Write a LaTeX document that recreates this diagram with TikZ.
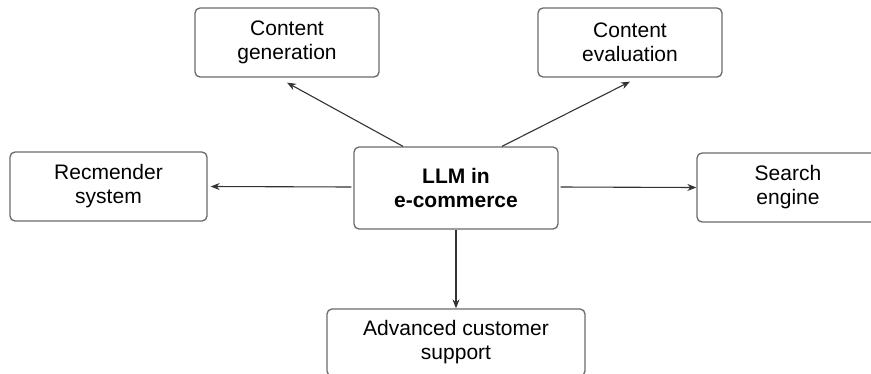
\documentclass[tikz,border=0pt]{standalone}
\usepackage{fontspec}
\setmainfont{Liberation Sans}
\usetikzlibrary{arrows.meta}
\definecolor{boxline}{HTML}{6A6A6A}
\definecolor{arrowline}{HTML}{333333}
\begin{document}
\begin{tikzpicture}[x=1pt,y=-1pt,
  topic/.style={draw=boxline, line width=1.3pt, rounded corners=5pt, fill=white,
    align=center, inner sep=0pt, font=\fontsize{21}{24}\selectfont},
  link/.style={draw=arrowline, line width=1.1pt, -{Stealth[length=9pt,width=7pt]}}]
  \useasboundingbox (0,0) rectangle (871,373);
  \fill[white] (0,0) rectangle (871,373);

  % boxes
  \node[topic, minimum width=184pt, minimum height=69pt] (gen) at (287,42.5) {Content\\generation};
  \node[topic, minimum width=184pt, minimum height=69pt] (eval) at (630,42.5) {Content\\evaluation};
  \node[topic, minimum width=197pt, minimum height=69pt] (rec) at (108.5,186.5) {Recmender\\system};
  \node[topic, minimum width=204pt, minimum height=82pt, font=\fontsize{21}{24}\selectfont\bfseries] (llm) at (456,188) {LLM in\\e-commerce};
  \node[topic, minimum width=182pt, minimum height=69pt] (search) at (788,187.5) {Search\\engine};
  \node[topic, minimum width=258pt, minimum height=67pt] (adv) at (456,342.5) {Advanced customer\\support};

  % connectors from the central topic
  \draw[link] ([xshift=-53pt]llm.north) -- ([yshift=-5pt]gen.south);
  \draw[link] ([xshift=46pt]llm.north) -- ([yshift=-4pt]eval.south);
  \draw[link] ([xshift=-2pt,yshift=1pt]llm.west) -- ([xshift=3pt]rec.east);
  \draw[link] ([xshift=2pt,yshift=1pt]llm.east) -- (search.west);
  \draw[link] (llm.south) -- (adv.north);
\end{tikzpicture}
\end{document}
